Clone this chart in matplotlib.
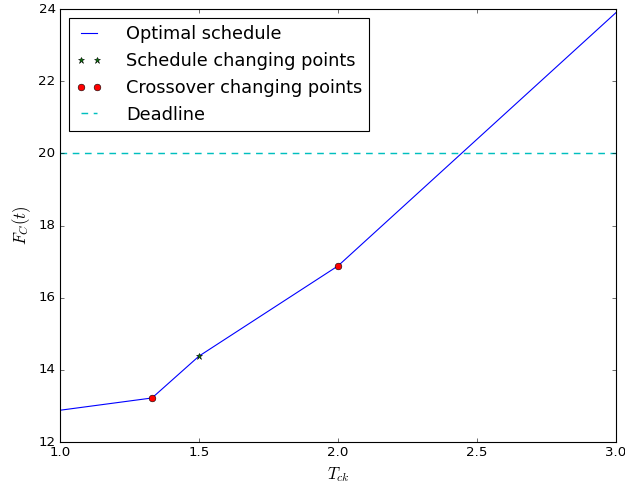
import matplotlib
matplotlib.use("Agg")
import matplotlib.pyplot as plt

plt.style.use("classic")

# optimal schedule curve
t_ck = [1.0, 1.331, 1.5, 2.0, 3.0]
f_c = [12.88, 13.22, 14.38, 16.88, 23.9]

# schedule changing points
sched_x = [1.5]
sched_y = [14.38]

# crossover changing points
cross_x = [1.331, 2.0]
cross_y = [13.22, 16.88]

deadline = 20

fig = plt.figure(figsize=(625 / 80, 489 / 80), dpi=80)
ax = fig.add_axes([60 / 625, 1 - 442 / 489, 556 / 625, 433 / 489])

ax.plot(t_ck, f_c, "b-", label="Optimal schedule")
ax.plot(sched_x, sched_y, "g*", label="Schedule changing points")
ax.plot(cross_x, cross_y, "ro", label="Crossover changing points")
ax.axhline(deadline, color=(0, 0.75, 0.75), linestyle=(0, (6, 5)), lw=1.3,
           label="Deadline")

ax.set_xlim(1.0, 3.0)
ax.set_ylim(12, 24)
ax.set_xlabel(r"$T_{ck}$", fontsize=15)
ax.set_ylabel(r"$F_C(t)$", fontsize=15)
ax.legend(loc="upper left", fontsize=16, labelspacing=0.5,
          handlelength=1.5, handletextpad=1.3)

fig.savefig("out.png", dpi=80)
